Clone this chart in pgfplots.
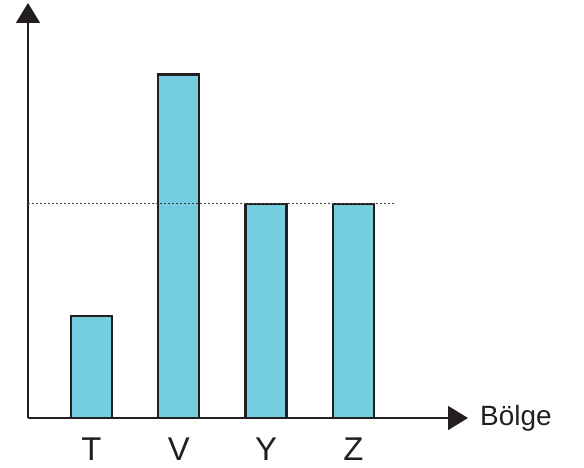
\documentclass[border=0pt]{standalone}
\usepackage{fontspec}
\setmainfont{Liberation Sans}
\usepackage{pgfplots}
\pgfplotsset{compat=1.18}
\usetikzlibrary{arrows.meta}
\definecolor{barfill}{HTML}{74CEE0}
\definecolor{edge}{HTML}{231F20}
\begin{document}
\begin{tikzpicture}
\useasboundingbox (0,0) rectangle (584bp,468bp);
\begin{axis}[
  at={(28bp,50bp)}, anchor=south west,
  scale only axis,
  width=440bp, height=415bp,
  xmin=-0.727, xmax=4.313,
  ymin=0, ymax=4.07,
  axis x line=bottom, axis y line=left,
  axis line style={line width=1.6bp, edge, -{Triangle[width=24bp,length=20bp]}},
  xtick={0,1,2,3},
  xticklabels={T,V,Y,Z},
  ytick=\empty,
  major tick length=0pt,
  xticklabel style={anchor=base, yshift=-42bp, font=\fontsize{33}{33}\selectfont, text=edge},
  clip=false,
]
\addplot[ybar, bar width=41bp, fill=barfill, draw=edge, line width=2.3bp]
  coordinates {(0,1.00) (1,3.37) (2,2.10) (3,2.10)};
\addplot[edge!85, line width=0.9bp, dash pattern=on 2bp off 2bp]
  coordinates {(-0.727,2.10) (3.476,2.10)};
\node[anchor=base west, font=\fontsize{28}{28}\selectfont, text=edge, inner sep=0pt]
  at (rel axis cs:1,0) [xshift=12bp, yshift=-8bp] {Bölge};
\end{axis}
\end{tikzpicture}
\end{document}
